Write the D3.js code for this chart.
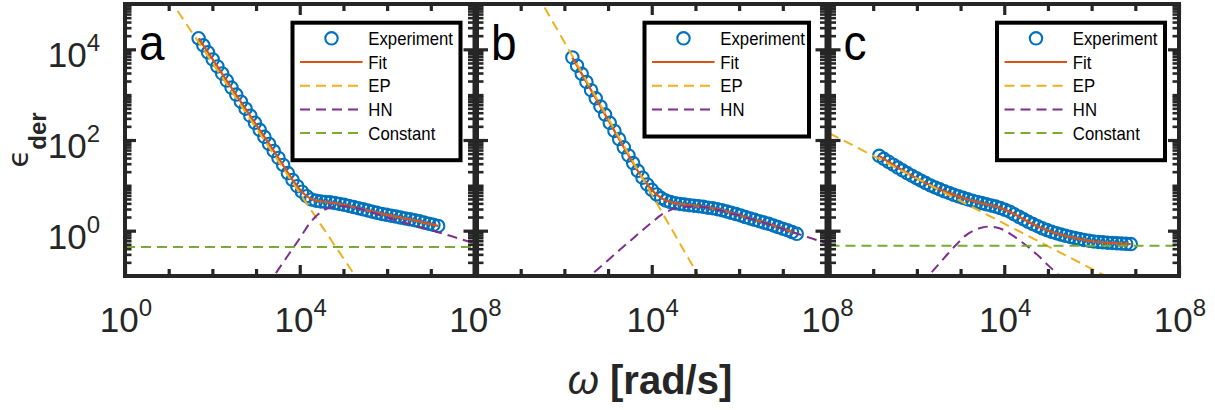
<!DOCTYPE html>
<html>
<head>
<meta charset="utf-8">
<script src="https://cdn.jsdelivr.net/npm/d3@7"></script>
<style>
  html, body { margin: 0; padding: 0; background: #fff; }
  svg { display: block; }
  text { font-family: "Liberation Sans", Arial, Helvetica, sans-serif; }
</style>
</head>
<body>
<svg id="fig" width="1215" height="410"></svg>
<script>
// ---------- data (log10 of ω in rad/s, log10 of ε_der) ----------
// panel a
const logW_A = [1.685,1.793,1.900,2.008,2.115,2.223,2.330,2.438,2.545,2.653,2.760,2.868,2.975,3.083,3.190,3.298,3.405,3.513,3.620,3.728,3.835,3.943,4.050,4.158,4.265,4.373,4.480,4.588,4.695,4.803,4.910,5.018,5.125,5.233,5.340,5.448,5.555,5.663,5.770,5.878,5.985,6.093,6.200,6.308,6.415,6.523,6.630,6.738,6.845,6.953,7.060,7.168];
const logE_A = [4.244,4.089,3.933,3.778,3.623,3.467,3.312,3.157,3.001,2.846,2.691,2.535,2.380,2.225,2.069,1.914,1.759,1.603,1.450,1.270,1.120,0.980,0.860,0.760,0.690,0.660,0.645,0.635,0.625,0.610,0.590,0.570,0.545,0.520,0.495,0.470,0.445,0.420,0.395,0.370,0.350,0.330,0.310,0.290,0.270,0.250,0.230,0.205,0.180,0.155,0.130,0.105];
const fit_A = [[1.685,4.244],[2.0,3.79],[2.5,3.06],[3.0,2.34],[3.5,1.62],[3.7,1.32],[3.85,1.10],[4.0,0.91],[4.15,0.77],[4.3,0.68],[4.5,0.643],[4.8,0.61],[5.1,0.55],[5.5,0.458],[6.0,0.347],[6.5,0.254],[7.0,0.144],[7.168,0.105]];
const ep_A = [[1.0,5.14],[5.5,-1.33]];
const hn_A = [[3.25,-1.23],[3.5,-0.87],[3.75,-0.52],[4.0,-0.17],[4.25,0.19],[4.5,0.42],[4.75,0.52],[5.0,0.54],[5.25,0.51],[5.5,0.45],[6.0,0.29],[6.5,0.15],[7.0,0.01],[7.5,-0.13],[8.0,-0.28]];
const const_A = -0.36;

// panel b
const logW_B = [2.183,2.290,2.397,2.504,2.611,2.718,2.825,2.932,3.039,3.146,3.253,3.360,3.467,3.574,3.681,3.788,3.895,4.002,4.109,4.216,4.323,4.430,4.537,4.644,4.751,4.858,4.965,5.072,5.179,5.286,5.393,5.500,5.607,5.714,5.821,5.928,6.035,6.142,6.249,6.356,6.463,6.570,6.677,6.784,6.891,6.998,7.105,7.212,7.319];
const logE_B = [3.820,3.640,3.460,3.280,3.100,2.920,2.740,2.560,2.380,2.200,2.020,1.840,1.660,1.490,1.320,1.170,1.020,0.900,0.800,0.720,0.665,0.630,0.605,0.590,0.575,0.563,0.552,0.540,0.525,0.508,0.495,0.475,0.452,0.425,0.395,0.365,0.335,0.300,0.270,0.240,0.210,0.180,0.150,0.115,0.080,0.045,0.010,-0.030,-0.070];
const fit_B = [[2.183,3.82],[2.5,3.287],[3.0,2.445],[3.5,1.608],[3.7,1.29],[3.85,1.08],[4.0,0.902],[4.15,0.765],[4.3,0.675],[4.5,0.613],[4.8,0.57],[5.1,0.537],[5.4,0.493],[5.7,0.428],[6.0,0.343],[6.5,0.20],[7.0,0.045],[7.319,-0.07]];
const ep_B = [[1.0,5.84],[5.5,-1.72]];
const hn_B = [[2.4,-1.14],[2.75,-0.86],[3.0,-0.65],[3.25,-0.44],[3.5,-0.23],[3.75,-0.02],[4.0,0.18],[4.25,0.37],[4.5,0.48],[4.75,0.53],[5.0,0.535],[5.25,0.51],[5.5,0.46],[5.75,0.40],[6.0,0.335],[6.5,0.195],[7.0,0.04],[7.5,-0.12],[8.0,-0.28]];

// panel c
const logW_C = [1.137,1.244,1.350,1.457,1.564,1.670,1.777,1.884,1.990,2.097,2.204,2.310,2.417,2.524,2.630,2.737,2.844,2.950,3.057,3.164,3.270,3.377,3.484,3.590,3.697,3.804,3.910,4.017,4.124,4.230,4.337,4.444,4.550,4.657,4.764,4.870,4.977,5.084,5.190,5.297,5.404,5.510,5.617,5.724,5.830,5.937,6.044,6.150,6.257,6.364,6.470,6.577,6.684,6.790,6.897];
const logE_C = [1.650,1.585,1.520,1.456,1.392,1.331,1.271,1.212,1.157,1.102,1.050,0.999,0.953,0.911,0.869,0.831,0.792,0.758,0.724,0.692,0.662,0.634,0.608,0.582,0.557,0.531,0.498,0.460,0.418,0.362,0.307,0.251,0.196,0.145,0.098,0.053,0.014,-0.024,-0.055,-0.085,-0.113,-0.138,-0.163,-0.185,-0.206,-0.222,-0.237,-0.249,-0.258,-0.266,-0.272,-0.279,-0.284,-0.290,-0.295];
const fit_C = [[1.137,1.65],[1.35,1.52],[1.6,1.37],[1.85,1.23],[2.1,1.10],[2.35,0.98],[2.6,0.88],[2.85,0.79],[3.1,0.71],[3.35,0.64],[3.6,0.58],[3.85,0.52],[4.1,0.43],[4.35,0.30],[4.6,0.17],[4.85,0.06],[5.1,-0.03],[5.35,-0.10],[5.6,-0.16],[5.85,-0.21],[6.1,-0.245],[6.35,-0.265],[6.6,-0.28],[6.897,-0.295]];
const ep_C = [[0.0,2.148],[6.6,-1.139]];
const hn_C = [[2.1,-1.18],[2.3,-0.96],[2.5,-0.74],[2.7,-0.52],[2.9,-0.31],[3.1,-0.12],[3.3,0.0],[3.5,0.07],[3.65,0.09],[3.8,0.075],[4.0,0.01],[4.2,-0.11],[4.4,-0.25],[4.6,-0.40],[4.8,-0.57],[5.0,-0.76],[5.2,-0.94],[5.35,-1.08]];
const const_C = -0.335;

// axes
const xDomain = [1, 1e8];
const yDomain = [1e-1, 1e5];
const xTickLabels = [0, 4, 8];      // exponents of labelled ω ticks
const yTickLabels = [0, 2, 4];      // exponents of labelled ε ticks
const panelLetters = ["a", "b", "c"];
const legendNames = ["Experiment", "Fit", "EP", "HN", "Constant"];

// ---------- layout ----------
const svg = d3.select("#fig");
const TOP = 4, BOTTOM = 276, PW = 349.5;
const panelX = [125, 477, 829.5];
const INK = "#262626";
const COL = { exp: "#0072BD", fit: "#D95319", ep: "#EDB120", hn: "#7E2F8E", con: "#77AC30" };
const DASH = "10,6";

const panels = [
  { w: logW_A, e: logE_A, fit: fit_A, ep: ep_A, hn: hn_A, con: const_A },
  { w: logW_B, e: logE_B, fit: fit_B, ep: ep_B, hn: hn_B, con: null },
  { w: logW_C, e: logE_C, fit: fit_C, ep: ep_C, hn: hn_C, con: const_C }
];

const defs = svg.append("defs");

function supLabel(parent, x, y, base, exp, anchor) {
  const t = parent.append("text").attr("x", x).attr("y", y)
    .attr("text-anchor", anchor).attr("fill", INK);
  t.append("tspan").attr("font-size", 35).text(base);
  t.append("tspan").attr("font-size", 24).attr("dy", -16).text(exp);
  return t;
}

panels.forEach((p, i) => {
  const x0 = panelX[i];
  const x = d3.scaleLog().domain(xDomain).range([x0, x0 + PW]);
  const y = d3.scaleLog().domain(yDomain).range([BOTTOM, TOP]);
  const X = v => x(Math.pow(10, v));
  const Y = v => y(Math.pow(10, v));

  defs.append("clipPath").attr("id", "clip" + i)
    .append("rect").attr("x", x0).attr("y", TOP).attr("width", PW).attr("height", BOTTOM - TOP);

  const g = svg.append("g");
  const plot = g.append("g").attr("clip-path", `url(#clip${i})`);

  // experiment
  plot.append("g").selectAll("circle")
    .data(d3.zip(p.w, p.e))
    .join("circle")
    .attr("cx", d => X(d[0]))
    .attr("cy", d => Y(d[1]))
    .attr("r", 6.2)
    .attr("fill", "none")
    .attr("stroke", COL.exp)
    .attr("stroke-width", 2.1);

  const smooth = d3.line().x(d => X(d[0])).y(d => Y(d[1])).curve(d3.curveMonotoneX);
  const straight = d3.line().x(d => X(d[0])).y(d => Y(d[1]));

  // fit
  plot.append("path").attr("d", smooth(p.fit))
    .attr("fill", "none").attr("stroke", COL.fit).attr("stroke-width", 2.2);
  // electrode polarisation
  plot.append("path").attr("d", straight(p.ep))
    .attr("fill", "none").attr("stroke", COL.ep).attr("stroke-width", 2)
    .attr("stroke-dasharray", DASH);
  // Havriliak–Negami
  plot.append("path").attr("d", smooth(p.hn))
    .attr("fill", "none").attr("stroke", COL.hn).attr("stroke-width", 2)
    .attr("stroke-dasharray", DASH);
  // constant
  if (p.con !== null) {
    plot.append("path").attr("d", straight([[0, p.con], [8, p.con]]))
      .attr("fill", "none").attr("stroke", COL.con).attr("stroke-width", 2)
      .attr("stroke-dasharray", DASH);
  }

  // ticks (inward on all four sides)
  const xMajor = xTickLabels.map(e => Math.pow(10, e));
  const xMinor = d3.range(1, 8).filter(e => !xTickLabels.includes(e)).map(e => Math.pow(10, e));
  const yMajor = yTickLabels.map(e => Math.pow(10, e));
  const yMinor = [];
  for (let d = -1; d <= 4; d++) for (let k = 1; k <= 9; k++) {
    const v = k * Math.pow(10, d);
    if (!(k === 1 && yTickLabels.includes(d))) yMinor.push(v);
  }
  yMinor.push(1e5);

  const tickGroup = g.append("g").attr("class", "ticks");
  function ticks(axisFn, scale, values, size, pos, width) {
    const a = tickGroup.append("g").attr("transform", pos)
      .call(axisFn(scale).tickValues(values).tickSize(size).tickSizeOuter(0).tickFormat(""));
    a.select(".domain").remove();
    a.selectAll(".tick line").attr("stroke", INK).attr("stroke-width", width);
  }
  ticks(d3.axisBottom, x, xMajor, -11, `translate(0,${BOTTOM})`, 3.2);
  ticks(d3.axisBottom, x, xMinor, -7, `translate(0,${BOTTOM})`, 3.2);
  ticks(d3.axisTop, x, xMajor, -11, `translate(0,${TOP})`, 3.2);
  ticks(d3.axisTop, x, xMinor, -7, `translate(0,${TOP})`, 3.2);
  ticks(d3.axisLeft, y, yMajor, -11, `translate(${x0},0)`, 3.2);
  ticks(d3.axisLeft, y, yMinor, -6.5, `translate(${x0},0)`, 2.6);
  ticks(d3.axisRight, y, yMajor, -11, `translate(${x0 + PW},0)`, 3.2);
  ticks(d3.axisRight, y, yMinor, -6.5, `translate(${x0 + PW},0)`, 2.6);

  // box
  g.append("rect").attr("x", x0).attr("y", TOP).attr("width", PW).attr("height", BOTTOM - TOP)
    .attr("fill", "none").attr("stroke", INK).attr("stroke-width", 4);

  // x tick labels
  xTickLabels.forEach(e => {
    if (i > 0 && e === 0) return; // hidden under the previous panel's last label
    supLabel(svg, x(Math.pow(10, e)) + 1, 332, "10", String(e), "middle");
  });
  // y tick labels (first panel only)
  if (i === 0) {
    yTickLabels.forEach(e => {
      supLabel(svg, 100, y(Math.pow(10, e)) + 18, "10", String(e), "end");
    });
  }

  // panel letter
  svg.append("g").attr("transform", `translate(${x0 + 14},${60}) scale(0.92,1)`)
    .append("text").attr("font-size", 50).attr("fill", "#000").text(panelLetters[i]);

  // legend
  const names = p.con !== null ? legendNames : legendNames.slice(0, 4);
  const lx = x0 + 167.5, ly = 22.7, lw = i === 1 ? 164.5 : 168, rowH = 23.7;
  const lh = 14 + names.length * rowH + 5;
  const leg = svg.append("g");
  leg.append("rect").attr("x", lx).attr("y", ly).attr("width", lw).attr("height", lh)
    .attr("fill", "#fff").attr("stroke", "#000").attr("stroke-width", 4);
  names.forEach((n, k) => {
    const cy = 38.3 + k * rowH;
    if (n === "Experiment") {
      leg.append("circle").attr("cx", x0 + 206.5).attr("cy", cy).attr("r", 6.2)
        .attr("fill", "none").attr("stroke", COL.exp).attr("stroke-width", 2.1);
    } else {
      const c = { Fit: COL.fit, EP: COL.ep, HN: COL.hn, Constant: COL.con }[n];
      const ln = leg.append("line").attr("x1", x0 + 175).attr("x2", x0 + 237.5)
        .attr("y1", cy).attr("y2", cy).attr("stroke", c).attr("stroke-width", n === "Fit" ? 2.2 : 2);
      if (n !== "Fit") ln.attr("stroke-dasharray", DASH);
    }
    leg.append("g").attr("transform", `translate(${x0 + 243.3},${cy + 6.5}) scale(0.93,1)`)
      .append("text").attr("font-size", 18).attr("fill", "#000").text(n);
  });
});

// axis titles
const xt = svg.append("text").attr("x", 650).attr("y", 394)
  .attr("text-anchor", "middle").attr("fill", INK).attr("font-size", 40);
xt.append("tspan").attr("font-style", "italic").text("ω ");
xt.append("tspan").attr("font-weight", "bold").text("[rad/s]");

const yt = svg.append("text").attr("transform", "translate(28,140) rotate(-90)")
  .attr("text-anchor", "middle").attr("fill", INK);
yt.append("tspan").attr("font-size", 29).attr("font-family", "'DejaVu Sans', sans-serif").text("ϵ");
yt.append("tspan").attr("font-size", 24).attr("font-weight", "bold").attr("dy", 18).text("der");
</script>
</body>
</html>
